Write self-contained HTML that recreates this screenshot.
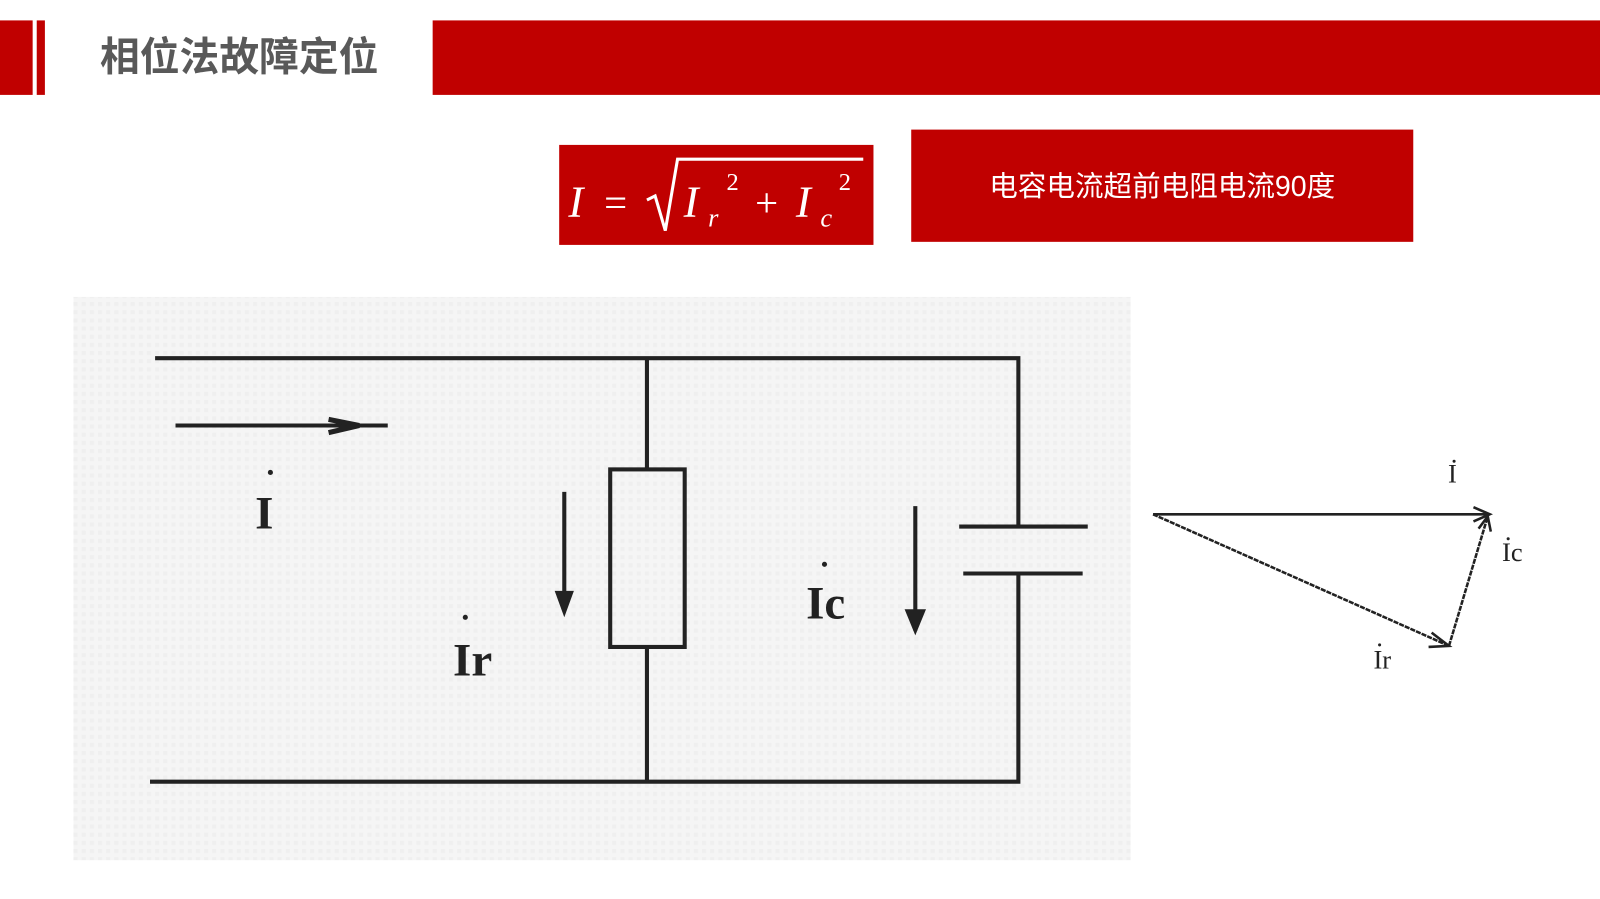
<!DOCTYPE html>
<html><head><meta charset="utf-8"><style>
html,body{margin:0;padding:0;background:#fff;}
svg{display:block}
</style></head><body>
<svg width="1600" height="899" viewBox="0 0 1568 881" preserveAspectRatio="none" xmlns="http://www.w3.org/2000/svg">
<defs>
<pattern id="p" width="8" height="8" patternUnits="userSpaceOnUse"><rect width="8" height="8" fill="#f5f5f5"/><rect width="4" height="4" fill="#efefef"/></pattern>
</defs>
<rect width="1568" height="881" fill="#fff"/>
<rect x="0" y="20" width="32" height="73" fill="#c00000"/>
<rect x="36" y="20" width="8" height="73" fill="#c00000"/>
<rect x="424" y="20" width="1144" height="73" fill="#c00000"/>
<text x="98" y="69" font-family="'Liberation Sans','Noto Sans CJK SC',sans-serif" font-weight="bold" font-size="39" fill="#595959">相位法故障定位</text>

<rect x="548" y="142" width="308" height="98" fill="#c00000"/>
<g font-family="'Liberation Serif',serif" font-style="italic" fill="#fff">
<text x="557" y="212" font-size="44">I</text>
<text x="592" y="212" font-size="40" font-style="normal">=</text>
<path d="M634 196 L642 192 L652 226 L664 156 L846 156" stroke="#fff" stroke-width="3" fill="none"/>
<text x="670" y="212" font-size="44">I</text>
<text x="694" y="222" font-size="26">r</text>
<text x="712" y="186" font-size="24" font-style="normal">2</text>
<text x="740" y="212" font-size="40" font-style="normal">+</text>
<text x="780" y="212" font-size="44">I</text>
<text x="804" y="222" font-size="26">c</text>
<text x="822" y="186" font-size="24" font-style="normal">2</text>
</g>

<rect x="893" y="127" width="492" height="110" fill="#c00000"/>
<text x="1139" y="192" text-anchor="middle" font-family="'Liberation Sans','Noto Sans CJK SC',sans-serif" font-size="28" fill="#fff">电容电流超前电阻电流90度</text>

<rect x="72" y="291" width="1036" height="552" fill="url(#p)"/>
<g stroke="#222" stroke-width="4" fill="none">
<path d="M152 351 L998 351 L998 516"/>
<path d="M998 562 L998 766 L147 766"/>
<path d="M634 351 L634 460"/>
<path d="M634 634 L634 766"/>
<rect x="598" y="460" width="73" height="174"/>
<path d="M940 516 L1066 516"/>
<path d="M944 562 L1061 562"/>
<path d="M172 417 L380 417"/>
<path d="M322 411 L352 417 L322 424" stroke-width="5"/>
<path d="M553 482 L553 598"/>
<path d="M545 580 L553 602 L561 580 Z" fill="#222" stroke-width="2"/>
<path d="M897 496 L897 618"/>
<path d="M888 598 L897 620 L906 598 Z" fill="#222" stroke-width="2"/>
</g>
<g font-family="'Liberation Serif',serif" font-weight="bold" fill="#222">
<text x="250" y="518" font-size="46">I</text><circle cx="265" cy="463" r="2.5"/>
<text x="444" y="662" font-size="46">Ir</text><circle cx="456" cy="605" r="2.5"/>
<text x="790" y="606" font-size="46">Ic</text><circle cx="808" cy="553" r="2.5"/>
</g>

<g stroke="#222" stroke-width="2.5" fill="none">
<path d="M1130 504 L1460 504"/>
<path d="M1444 497 L1460 504 L1444 511"/>
<path d="M1130 504 L1420 633" stroke-dasharray="5 1"/>
<path d="M1403 620 L1420 633 L1400 634"/>
<path d="M1420 633 L1458 506" stroke-dasharray="5 1"/>
<path d="M1449 518 L1458 506 L1461 521"/>
</g>
<g font-family="'Liberation Serif',serif" fill="#222" font-size="26">
<text x="1419" y="473">I</text><circle cx="1425" cy="452" r="1.5"/>
<text x="1472" y="550">Ic</text><circle cx="1478" cy="528" r="1.5"/>
<text x="1346" y="655">Ir</text><circle cx="1352" cy="632" r="1.5"/>
</g>
</svg>
</body></html>
